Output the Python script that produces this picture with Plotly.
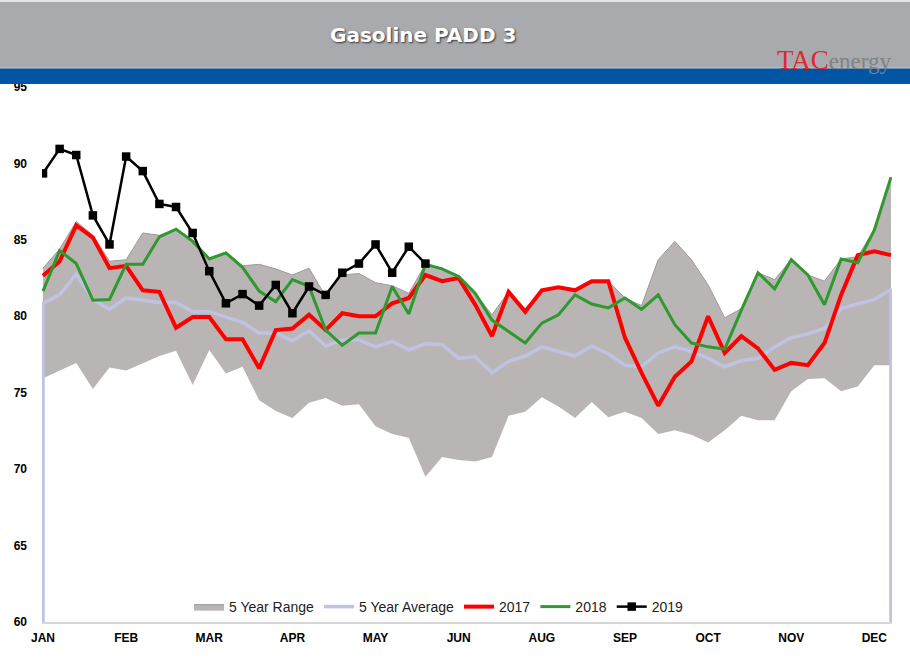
import plotly.graph_objects as go

# ---------------- data ----------------
weeks = list(range(52))
month_tick_weeks = [0, 5, 10, 15, 20, 25, 30, 35, 40, 45, 50]
month_labels = ["JAN", "FEB", "MAR", "APR", "MAY", "JUN", "AUG", "SEP", "OCT", "NOV", "DEC"]
y_ticks = [60, 65, 70, 75, 80, 85, 90, 95]

range_max = [83.15, 84.4, 86.2, 85.3, 83.6, 83.7, 85.45, 85.3, 85.7, 85.0,
             83.8, 84.2, 83.3, 83.4, 83.1, 82.7, 83.15, 81.3, 82.7, 82.8,
             82.2, 82.0, 81.5, 83.4, 83.15, 82.6, 81.5, 80.1, 81.6, 80.5,
             81.7, 81.9, 81.75, 82.35, 82.3, 81.2, 80.7, 83.7, 84.9, 83.7,
             82.05, 79.9, 80.5, 82.85, 82.4, 83.7, 82.7, 82.3, 83.75, 83.9,
             85.7, 89.1]
range_min = [75.95, 76.45, 76.95, 75.25, 76.65, 76.45, 76.9, 77.4, 77.75, 75.5,
             77.8, 76.25, 76.7, 74.5, 73.8, 73.35, 74.35, 74.65, 74.15, 74.25,
             72.8, 72.3, 72.05, 69.5, 70.8, 70.6, 70.5, 70.8, 73.5, 73.75,
             74.7, 74.1, 73.35, 74.4, 73.4, 73.75, 73.35, 72.3, 72.55, 72.25,
             71.75, 72.55, 73.5, 73.2, 73.2, 75.1, 75.9, 75.95, 75.1, 75.4,
             76.8, 76.8]
avg_5yr = [80.85, 81.4, 82.75, 81.1, 80.45, 81.2, 81.05, 80.9, 80.9, 80.3,
           80.3, 79.95, 79.6, 78.9, 78.9, 78.4, 79.05, 78.05, 78.45, 78.45,
           78.0, 78.35, 77.8, 78.2, 78.15, 77.25, 77.35, 76.3, 77.05, 77.4,
           78.0, 77.7, 77.4, 78.05, 77.55, 76.8, 76.7, 77.6, 78.0, 77.7,
           77.25, 76.7, 77.1, 77.25, 78.0, 78.6, 78.85, 79.2, 80.5, 80.8,
           81.1, 81.75]
y2017 = [82.65, 83.6, 85.95, 85.15, 83.15, 83.3, 81.7, 81.6, 79.25, 79.95,
         79.95, 78.5, 78.5, 76.6, 79.1, 79.2, 80.1, 79.1, 80.2, 80.0,
         80.0, 80.85, 81.2, 82.7, 82.3, 82.5, 80.75, 78.7, 81.6, 80.3,
         81.7, 81.9, 81.7, 82.3, 82.3, 78.6, 76.3, 74.15, 76.05, 77.05,
         80.0, 77.6, 78.7, 77.9, 76.5, 76.95, 76.8, 78.25, 81.4, 84.0,
         84.25, 84.0]
y2018 = [81.65, 84.3, 83.45, 81.05, 81.1, 83.4, 83.4, 85.2, 85.7, 84.9,
         83.75, 84.15, 83.2, 81.65, 80.95, 82.4, 81.95, 79.1, 78.1, 78.9,
         78.9, 81.95, 80.15, 83.4, 83.1, 82.6, 81.5, 79.75, 79.0, 78.25,
         79.55, 80.1, 81.4, 80.8, 80.55, 81.2, 80.45, 81.4, 79.45, 78.25,
         78.0, 77.85, 80.4, 82.85, 81.8, 83.7, 82.7, 80.75, 83.75, 83.5,
         85.65, 89.1]
y2019 = [89.35, 90.95, 90.55, 86.6, 84.7, 90.45, 89.5, 87.35, 87.15, 85.45,
         82.95, 80.85, 81.45, 80.7, 82.05, 80.2, 81.95, 81.4, 82.85, 83.45,
         84.7, 82.85, 84.55, 83.45]

# ---------------- figure ----------------
W, H = 910, 661
L, R, T, B = 42, 18, 87, 39
plot_w, plot_h = W - L - R, H - T - B


def px_x(p):
    return (p - L) / plot_w


def px_y(p):
    return (H - B - p) / plot_h


y_lo = y_ticks[0]
fig = go.Figure()

fig.add_trace(go.Scatter(x=weeks, y=range_min, mode="lines",
                         line=dict(width=0, color="rgba(0,0,0,0)"),
                         showlegend=False, hoverinfo="skip"))
fig.add_trace(go.Scatter(x=weeks, y=range_max, mode="lines", name="5 Year Range",
                         fill="tonexty", fillcolor="#b9b5b4",
                         line=dict(color="#9d9998", width=1)))
fig.add_trace(go.Scatter(x=[weeks[0]] + weeks + [weeks[-1]],
                         y=[y_lo] + avg_5yr + [y_lo],
                         mode="lines", name="5 Year Average",
                         line=dict(color="#c0c2e2", width=3.5)))
fig.add_trace(go.Scatter(x=weeks, y=y2017, mode="lines", name="2017",
                         line=dict(color="#ff0000", width=4)))
fig.add_trace(go.Scatter(x=weeks, y=y2018, mode="lines", name="2018",
                         line=dict(color="#2f992f", width=3)))
fig.add_trace(go.Scatter(x=weeks[:len(y2019)], y=y2019, mode="lines+markers", name="2019",
                         line=dict(color="#000000", width=2.5),
                         marker=dict(symbol="square", size=8.5, color="#000000")))

shapes = [
    dict(type="rect", xref="paper", yref="paper", x0=px_x(-5), x1=px_x(W + 5),
         y0=px_y(68), y1=px_y(-5), fillcolor="#a9aaae", line=dict(width=0), layer="above"),
    dict(type="rect", xref="paper", yref="paper", x0=px_x(-5), x1=px_x(W + 5),
         y0=px_y(84), y1=px_y(68), fillcolor="#0055a4", line=dict(width=0), layer="above"),
    dict(type="line", xref="paper", yref="paper", x0=px_x(-5), x1=px_x(W + 5),
         y0=px_y(68), y1=px_y(68), line=dict(color="#c9cacd", width=1), layer="above"),
    dict(type="line", xref="paper", yref="paper", x0=px_x(-5), x1=px_x(W + 5),
         y0=px_y(1), y1=px_y(1), line=dict(color="#e4e4e6", width=2), layer="above"),
]

annotations = [
    dict(text="<b>Gasoline PADD 3</b>", xref="paper", yref="paper",
         x=px_x(423), y=px_y(35), xanchor="center", yanchor="middle", showarrow=False,
         font=dict(family="DejaVu Sans", size=20, color="white",
                   shadow="1px 1px 2px rgba(0,0,0,0.7)")),
    dict(text="<span style='color:#dc2a2e;font-size:27px'>TAC</span>"
              "<span style='color:#808285'>energy</span>",
         xref="paper", yref="paper", x=px_x(834), y=px_y(60), xanchor="center", yanchor="middle",
         showarrow=False, font=dict(family="Liberation Serif", size=23)),
]

fig.update_layout(
    width=W, height=H,
    margin=dict(l=L, r=R, t=T, b=B),
    paper_bgcolor="white", plot_bgcolor="white",
    shapes=shapes, annotations=annotations,
    showlegend=True,
    legend=dict(orientation="h", traceorder="normal",
                x=px_x(439), xanchor="center", y=0.028, yanchor="middle",
                bgcolor="rgba(0,0,0,0)", itemwidth=30,
                font=dict(family="Liberation Sans", size=14, color="#222222")),
    xaxis=dict(range=[-0.06, 51.06], tickmode="array", tickvals=month_tick_weeks,
               ticktext=month_labels, showgrid=False, zeroline=False,
               showline=True, linecolor="#d6d6d6", linewidth=2, ticks="",
               tickfont=dict(family="Liberation Sans", size=12, color="black", weight="bold"),
               ticklabelstandoff=4),
    yaxis=dict(range=[y_lo, 95], tickmode="array", tickvals=y_ticks,
               showgrid=False, zeroline=False, showline=False, ticks="",
               tickfont=dict(family="Liberation Sans", size=12, color="black", weight="bold"),
               ticklabelstandoff=14),
)

fig.write_html("out.html", config={"displayModeBar": False},
               post_script="document.body.style.margin='0px';")
